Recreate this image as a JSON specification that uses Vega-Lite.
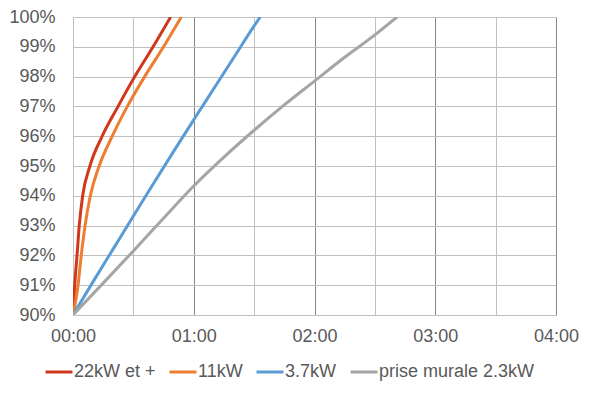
{
  "$schema": "https://vega.github.io/schema/vega-lite/v6.json",
  "width": 483,
  "height": 298,
  "autosize": {"type": "none"},
  "padding": {"left": 73, "top": 17, "right": 38, "bottom": 78},
  "background": "white",
  "config": {
    "font": "Liberation Sans",
    "view": {"stroke": null}
  },
  "data": {
    "values": [
      {"series": "22kW et +", "t": 0, "pct": 90},
      {"series": "22kW et +", "t": 0.85, "pct": 91},
      {"series": "22kW et +", "t": 2.0, "pct": 92},
      {"series": "22kW et +", "t": 3.1, "pct": 93},
      {"series": "22kW et +", "t": 4.8, "pct": 94},
      {"series": "22kW et +", "t": 8.4, "pct": 95},
      {"series": "22kW et +", "t": 14.5, "pct": 96},
      {"series": "22kW et +", "t": 22.4, "pct": 97},
      {"series": "22kW et +", "t": 30.7, "pct": 98},
      {"series": "22kW et +", "t": 39.8, "pct": 99},
      {"series": "22kW et +", "t": 48.5, "pct": 100},
      {"series": "11kW", "t": 0, "pct": 90},
      {"series": "11kW", "t": 2.5, "pct": 91},
      {"series": "11kW", "t": 4.1, "pct": 92},
      {"series": "11kW", "t": 6.0, "pct": 93},
      {"series": "11kW", "t": 8.6, "pct": 94},
      {"series": "11kW", "t": 13.0, "pct": 95},
      {"series": "11kW", "t": 19.5, "pct": 96},
      {"series": "11kW", "t": 27.0, "pct": 97},
      {"series": "11kW", "t": 35.6, "pct": 98},
      {"series": "11kW", "t": 45.0, "pct": 99},
      {"series": "11kW", "t": 53.8, "pct": 100},
      {"series": "3.7kW", "t": 0, "pct": 90},
      {"series": "3.7kW", "t": 10, "pct": 91.12},
      {"series": "3.7kW", "t": 20, "pct": 92.22},
      {"series": "3.7kW", "t": 30, "pct": 93.32},
      {"series": "3.7kW", "t": 40, "pct": 94.41},
      {"series": "3.7kW", "t": 50, "pct": 95.49},
      {"series": "3.7kW", "t": 60, "pct": 96.55},
      {"series": "3.7kW", "t": 70, "pct": 97.6},
      {"series": "3.7kW", "t": 80, "pct": 98.65},
      {"series": "3.7kW", "t": 90, "pct": 99.7},
      {"series": "3.7kW", "t": 93, "pct": 100},
      {"series": "prise murale 2.3kW", "t": 0, "pct": 90},
      {"series": "prise murale 2.3kW", "t": 15, "pct": 91.07},
      {"series": "prise murale 2.3kW", "t": 30, "pct": 92.15},
      {"series": "prise murale 2.3kW", "t": 45, "pct": 93.25},
      {"series": "prise murale 2.3kW", "t": 60, "pct": 94.33},
      {"series": "prise murale 2.3kW", "t": 75, "pct": 95.3},
      {"series": "prise murale 2.3kW", "t": 90, "pct": 96.2},
      {"series": "prise murale 2.3kW", "t": 105, "pct": 97.05},
      {"series": "prise murale 2.3kW", "t": 120, "pct": 97.85},
      {"series": "prise murale 2.3kW", "t": 135, "pct": 98.65},
      {"series": "prise murale 2.3kW", "t": 150, "pct": 99.4},
      {"series": "prise murale 2.3kW", "t": 161, "pct": 100}
    ]
  },
  "mark": {"type": "line", "interpolate": "monotone", "strokeWidth": 3, "clip": true},
  "encoding": {
    "x": {
      "field": "t",
      "type": "quantitative",
      "scale": {"domain": [0, 240], "nice": false, "zero": false},
      "axis": {
        "title": null,
        "values": [0, 30, 60, 90, 120, 150, 180, 210, 240],
        "labelExpr": "datum.value % 60 === 0 ? '0' + (datum.value / 60) + ':00' : ''",
        "domain": false,
        "ticks": false,
        "labelFontSize": 18,
        "labelColor": "#595959",
        "labelPadding": 12,
        "labelFlush": false,
        "labelOverlap": false,
        "grid": true,
        "gridColor": {"condition": {"test": "datum.value % 60 === 0 && datum.value > 0", "value": "#868686"}, "value": "#c0c0c0"},
        "gridWidth": 1
      }
    },
    "y": {
      "field": "pct",
      "type": "quantitative",
      "scale": {"domain": [90, 100], "nice": false, "zero": false},
      "axis": {
        "title": null,
        "values": [90, 91, 92, 93, 94, 95, 96, 97, 98, 99, 100],
        "labelExpr": "datum.value + '%'",
        "domain": false,
        "ticks": false,
        "labelFontSize": 18,
        "labelColor": "#595959",
        "labelPadding": 18,
        "labelFlush": false,
        "labelOverlap": false,
        "grid": true,
        "gridColor": "#c0c0c0",
        "gridWidth": 1
      }
    },
    "color": {
      "field": "series",
      "type": "nominal",
      "scale": {
        "domain": ["22kW et +", "11kW", "3.7kW", "prise murale 2.3kW"],
        "range": ["#d0381c", "#ed7d31", "#5b9bd5", "#a5a5a5"]
      },
      "legend": {
        "title": null,
        "orient": "none",
        "direction": "horizontal",
        "legendX": -29,
        "legendY": 340,
        "symbolType": "stroke",
        "symbolSize": 729,
        "symbolStrokeWidth": 3,
        "labelFontSize": 18,
        "labelColor": "#595959",
        "labelOffset": 0,
        "columnPadding": 7,
        "padding": 0
      }
    }
  }
}
